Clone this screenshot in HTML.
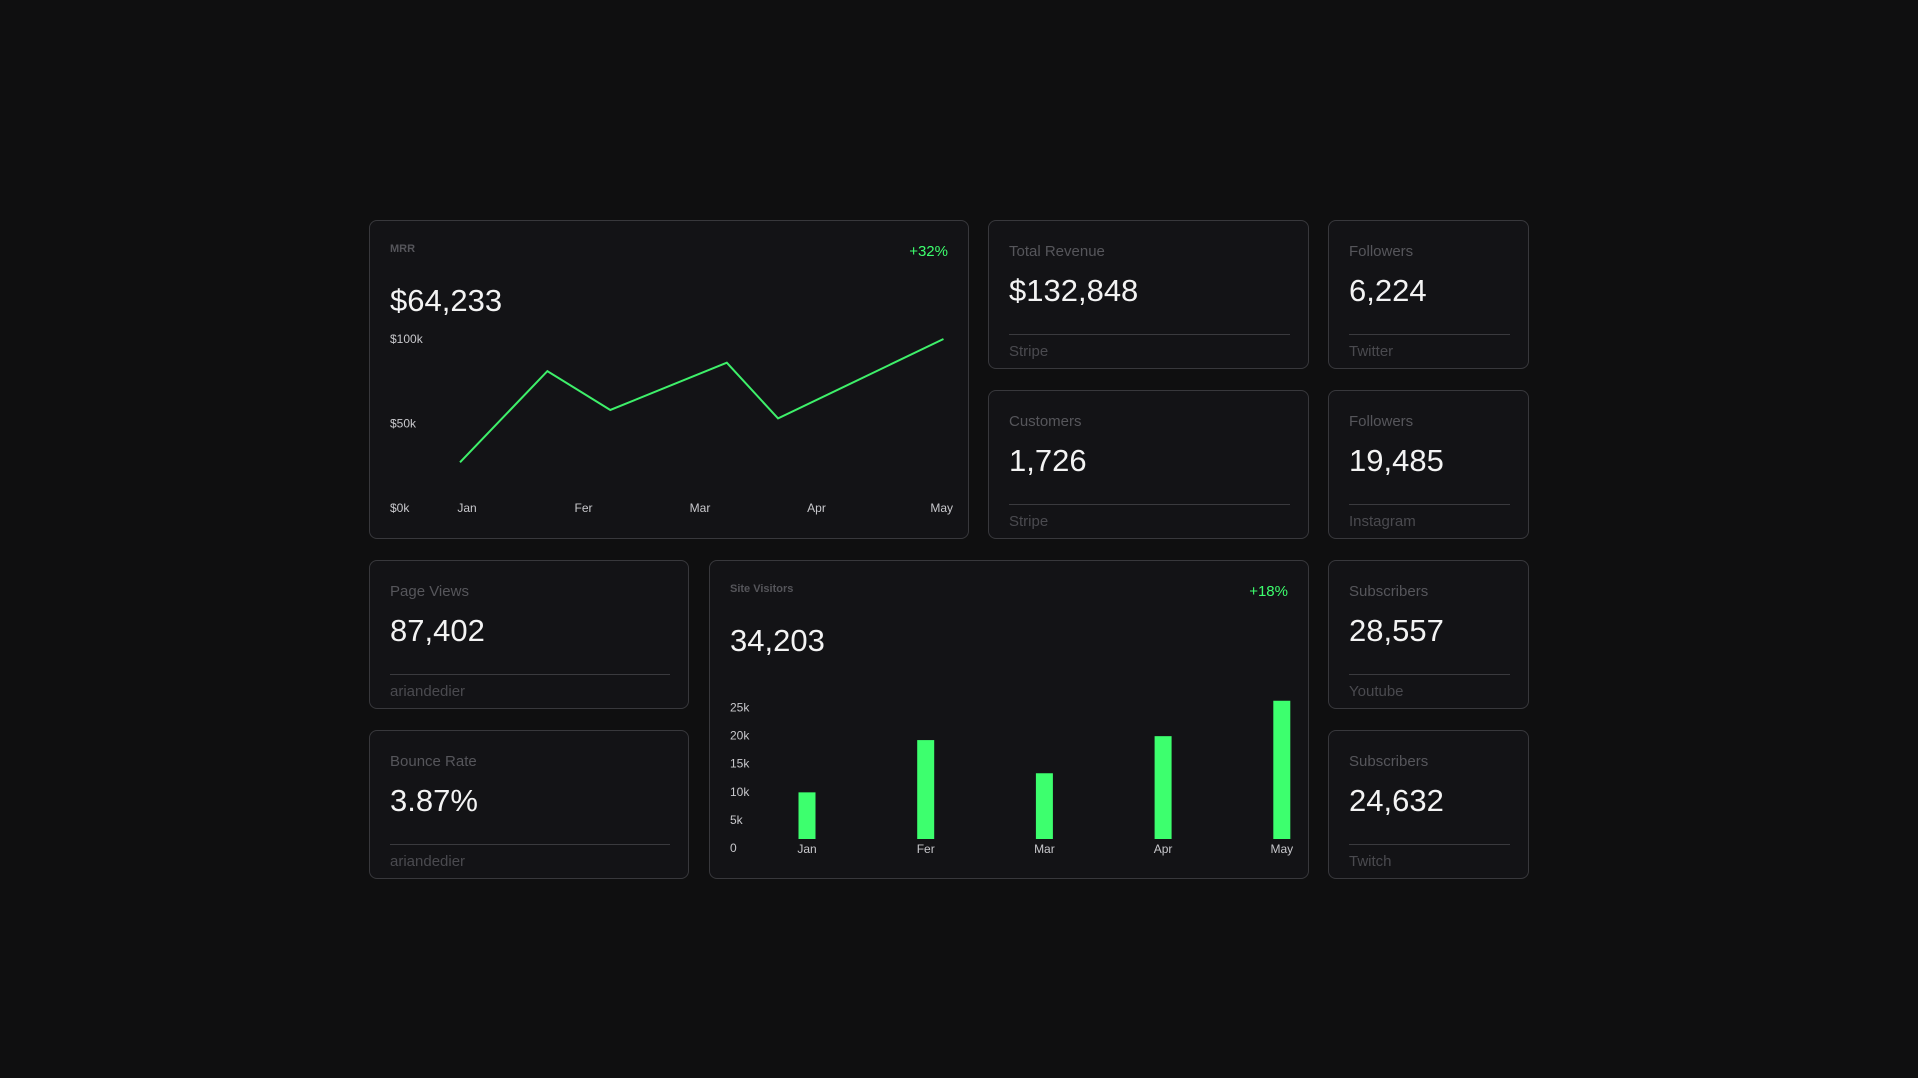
<!DOCTYPE html>
<html><head><meta charset="utf-8"><style>
body{margin:0;width:1918px;height:1078px;background:#0f0f10;font-family:"Liberation Sans",sans-serif;overflow:hidden;position:relative}
.card{position:absolute;background:#131316;border:1.5px solid #38383c;border-radius:8px;box-sizing:border-box}
.lbl{position:absolute;left:20px;color:#56565b;font-size:15px}
.val{position:absolute;left:20px;color:#f3f3f3;font-size:31px}
.div{position:absolute;left:20px;right:18px;height:1px;background:#3a3a3e}
.ft{position:absolute;left:20px;color:#4a4a4f;font-size:15px}
.grn{position:absolute;color:#3dff6e;font-size:15px}
svg{position:absolute;left:0;top:0}
svg text{font-family:"Liberation Sans",sans-serif;font-size:12px;fill:#c8c8cc}
</style></head><body>

<div class="card" style="left:369px;top:220px;width:600px;height:319px">
<div style="position:absolute;left:20px;top:22px;color:#55555a;font-size:11px;font-weight:bold">MRR</div>
<div class="grn" style="right:20px;top:22px">+32%</div>
<div class="val" style="top:62px">$64,233</div>
</div>

<div class="card" style="left:988px;top:220px;width:321px;height:149px">
<div class="lbl" style="top:22px">Total Revenue</div><div class="val" style="top:52px">$132,848</div><div class="div" style="top:113px"></div><div class="ft" style="top:122px">Stripe</div></div>
<div class="card" style="left:1328px;top:220px;width:201px;height:149px">
<div class="lbl" style="top:22px">Followers</div><div class="val" style="top:52px">6,224</div><div class="div" style="top:113px"></div><div class="ft" style="top:122px">Twitter</div></div>
<div class="card" style="left:988px;top:390px;width:321px;height:149px">
<div class="lbl" style="top:22px">Customers</div><div class="val" style="top:52px">1,726</div><div class="div" style="top:113px"></div><div class="ft" style="top:122px">Stripe</div></div>
<div class="card" style="left:1328px;top:390px;width:201px;height:149px">
<div class="lbl" style="top:22px">Followers</div><div class="val" style="top:52px">19,485</div><div class="div" style="top:113px"></div><div class="ft" style="top:122px">Instagram</div></div>
<div class="card" style="left:369px;top:560px;width:320px;height:149px">
<div class="lbl" style="top:22px">Page Views</div><div class="val" style="top:52px">87,402</div><div class="div" style="top:113px"></div><div class="ft" style="top:122px">ariandedier</div></div>
<div class="card" style="left:369px;top:730px;width:320px;height:149px">
<div class="lbl" style="top:22px">Bounce Rate</div><div class="val" style="top:52px">3.87%</div><div class="div" style="top:113px"></div><div class="ft" style="top:122px">ariandedier</div></div>
<div class="card" style="left:1328px;top:560px;width:201px;height:149px">
<div class="lbl" style="top:22px">Subscribers</div><div class="val" style="top:52px">28,557</div><div class="div" style="top:113px"></div><div class="ft" style="top:122px">Youtube</div></div>
<div class="card" style="left:1328px;top:730px;width:201px;height:149px">
<div class="lbl" style="top:22px">Subscribers</div><div class="val" style="top:52px">24,632</div><div class="div" style="top:113px"></div><div class="ft" style="top:122px">Twitch</div></div>

<div class="card" style="left:709px;top:560px;width:600px;height:319px">
<div style="position:absolute;left:20px;top:22px;color:#55555a;font-size:11px;font-weight:bold">Site Visitors</div>
<div class="grn" style="right:20px;top:22px">+18%</div>
<div class="val" style="top:62px">34,203</div>
</div>

<svg id="chart" width="1918" height="1078"></svg>
<script>
const mrrMonths=["Jan","Fer","Mar","Apr","May"];
const mrrTicks=[0,50000,100000];
const mrrTickLabels=["$0k","$50k","$100k"];
const mrrT=[-0.06,0.69,1.23,2.23,2.67,4.09];
const mrrValues=[27000,81000,58000,86000,53000,100000];
const visMonths=["Jan","Fer","Mar","Apr","May"];
const visValues=[8300,17600,11700,18300,24600];
const visTicks=[0,5000,10000,15000,20000,25000];
const visTickLabels=["0","5k","10k","15k","20k","25k"];

const svg=document.getElementById('chart');
const NS='http://www.w3.org/2000/svg';
function mk(t,a){const e=document.createElementNS(NS,t);for(const k in a)e.setAttribute(k,a[k]);svg.appendChild(e);return e;}
const mx=t=>467+t*116.5, my=v=>508-v/100000*169;
mrrTicks.forEach((v,i)=>{const t=mk('text',{x:390,y:my(v)+4});t.textContent=mrrTickLabels[i];

});
mrrMonths.forEach((m,i)=>{const t=mk('text',{x:mx(i),y:512,'text-anchor':i==4?'end':'middle'});t.textContent=m;if(i==4)t.setAttribute('x',953);

});
const pts=mrrValues.map((v,i)=>mx(mrrT[i])+','+my(v)).join(' ');
const pl=mk('polyline',{points:pts,fill:'none',stroke:'#3ef06a','stroke-width':2});


const vy=v=>839-v/5000*28.1;
visTicks.forEach((v,i)=>{const t=mk('text',{x:730,y:vy(v)+13});t.textContent=visTickLabels[i];

});
visValues.forEach((v,i)=>{const cx=807+i*118.7;const r=mk('rect',{x:cx-8.5,y:vy(v),width:17,height:839-vy(v),fill:'#3dff6e'});


const t=mk('text',{x:cx,y:853,'text-anchor':'middle'});t.textContent=visMonths[i];

});
</script>
</body></html>
